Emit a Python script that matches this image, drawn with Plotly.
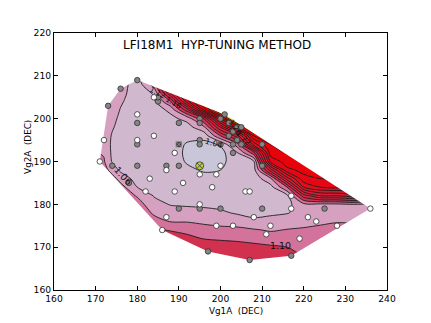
import numpy as np
import plotly.graph_objects as go

# ---------------- text ----------------
title_text = "LFI18M1\u00a0 HYP-TUNING METHOD"
x_label = "Vg1A\u00a0 (DEC)"
y_label = "Vg2A\u00a0 (DEC)"

x_ticks = [160, 170, 180, 190, 200, 210, 220, 230, 240]
y_ticks = [160, 170, 180, 190, 200, 210, 220]

# ---------------- contour levels / band colours ----------------
level_start, level_end, level_step = 1.04, 1.30, 0.02
band_colors = ['#c9c6d9', '#d0b9cf', '#d6a0c0', '#d3739b', '#d2304f',
               '#d52845', '#d9213c', '#dc1a32', '#df1428', '#e20e1e',
               '#e50814', '#e8020a', '#ea0000', '#ee2a00', '#f2c418']

# ---------------- gridded figure of merit ----------------
grid_x = [168, 172, 174, 176, 180, 184, 188, 192, 196, 200, 204, 208, 212, 216, 220, 224, 228, 232, 236, 240]
grid_y = [166, 168, 170, 172, 174, 176, 178, 180, 182, 184, 186, 188, 190, 192, 194, 196, 198, 200, 202, 204, 206, 208, 210]

# one list per grid_x column, values listed for grid_y from bottom to top
z_columns = [
    [1.12, 1.12, 1.12, 1.12, 1.12, 1.12, 1.12, 1.115, 1.11, 1.105, 1.10, 1.095, 1.09, 1.085, 1.082, 1.08, 1.08, 1.08, 1.08, 1.08, 1.08, 1.08, 1.08],
    [1.13, 1.13, 1.13, 1.13, 1.13, 1.125, 1.12, 1.115, 1.11, 1.10, 1.095, 1.088, 1.082, 1.078, 1.074, 1.072, 1.072, 1.072, 1.074, 1.076, 1.078, 1.08, 1.08],
    [1.12, 1.12, 1.12, 1.12, 1.12, 1.115, 1.11, 1.105, 1.10, 1.095, 1.088, 1.072, 1.058, 1.056, 1.056, 1.058, 1.062, 1.065, 1.068, 1.072, 1.076, 1.08, 1.085],
    [1.12, 1.12, 1.12, 1.12, 1.115, 1.11, 1.105, 1.10, 1.095, 1.088, 1.072, 1.056, 1.052, 1.05, 1.05, 1.051, 1.053, 1.056, 1.059, 1.062, 1.066, 1.07, 1.075],
    [1.12, 1.12, 1.12, 1.12, 1.115, 1.11, 1.10, 1.09, 1.078, 1.06, 1.052, 1.048, 1.046, 1.045, 1.045, 1.046, 1.047, 1.048, 1.05, 1.051, 1.05, 1.048, 1.05],
    [1.118, 1.118, 1.115, 1.11, 1.102, 1.09, 1.076, 1.066, 1.059, 1.053, 1.049, 1.046, 1.045, 1.045, 1.045, 1.045, 1.046, 1.048, 1.051, 1.056, 1.062, 1.09, 1.13],
    [1.118, 1.118, 1.116, 1.108, 1.099, 1.079, 1.068, 1.059, 1.052, 1.047, 1.044, 1.045, 1.045, 1.045, 1.045, 1.046, 1.05, 1.055, 1.064, 1.10, 1.16, 1.20, 1.22],
    [1.118, 1.118, 1.117, 1.108, 1.092, 1.079, 1.066, 1.058, 1.052, 1.048, 1.045, 1.042, 1.039, 1.038, 1.039, 1.043, 1.052, 1.066, 1.13, 1.21, 1.26, 1.28, 1.30],
    [1.118, 1.118, 1.116, 1.099, 1.088, 1.076, 1.065, 1.057, 1.05, 1.046, 1.043, 1.039, 1.026, 1.024, 1.034, 1.047, 1.075, 1.12, 1.24, 1.30, 1.32, 1.33, 1.34],
    [1.118, 1.117, 1.112, 1.097, 1.085, 1.074, 1.063, 1.055, 1.05, 1.046, 1.043, 1.040, 1.034, 1.033, 1.042, 1.10, 1.16, 1.24, 1.34, 1.38, 1.38, 1.38, 1.38],
    [1.118, 1.116, 1.108, 1.096, 1.085, 1.071, 1.058, 1.052, 1.048, 1.046, 1.045, 1.048, 1.052, 1.058, 1.09, 1.15, 1.25, 1.36, 1.38, 1.38, 1.38, 1.38, 1.38],
    [1.118, 1.116, 1.105, 1.094, 1.082, 1.064, 1.055, 1.05, 1.047, 1.046, 1.048, 1.052, 1.058, 1.11, 1.21, 1.26, 1.32, 1.36, 1.38, 1.38, 1.38, 1.38, 1.38],
    [1.118, 1.116, 1.103, 1.09, 1.078, 1.066, 1.057, 1.053, 1.05, 1.052, 1.075, 1.15, 1.225, 1.25, 1.26, 1.27, 1.29, 1.30, 1.30, 1.30, 1.30, 1.30, 1.30],
    [1.118, 1.117, 1.10, 1.09, 1.081, 1.07, 1.059, 1.054, 1.056, 1.10, 1.17, 1.235, 1.25, 1.26, 1.265, 1.27, 1.28, 1.28, 1.28, 1.28, 1.28, 1.28, 1.28],
    [1.11, 1.10, 1.092, 1.087, 1.082, 1.075, 1.066, 1.075, 1.13, 1.20, 1.235, 1.245, 1.25, 1.25, 1.26, 1.26, 1.26, 1.26, 1.26, 1.26, 1.26, 1.26, 1.26],
    [1.11, 1.10, 1.095, 1.088, 1.084, 1.077, 1.07, 1.075, 1.16, 1.22, 1.24, 1.245, 1.25, 1.25, 1.25, 1.25, 1.25, 1.25, 1.25, 1.25, 1.25, 1.25, 1.25],
    [1.11, 1.10, 1.095, 1.09, 1.086, 1.079, 1.072, 1.076, 1.16, 1.225, 1.24, 1.25, 1.25, 1.25, 1.25, 1.25, 1.25, 1.25, 1.25, 1.25, 1.25, 1.25, 1.25],
    [1.11, 1.10, 1.095, 1.09, 1.085, 1.078, 1.072, 1.08, 1.17, 1.22, 1.24, 1.25, 1.25, 1.25, 1.25, 1.25, 1.25, 1.25, 1.25, 1.25, 1.25, 1.25, 1.25],
    [1.10, 1.095, 1.09, 1.085, 1.08, 1.074, 1.07, 1.076, 1.15, 1.20, 1.24, 1.25, 1.25, 1.25, 1.25, 1.25, 1.25, 1.25, 1.25, 1.25, 1.25, 1.25, 1.25],
    [1.10, 1.095, 1.09, 1.085, 1.08, 1.074, 1.07, 1.075, 1.13, 1.18, 1.22, 1.24, 1.24, 1.24, 1.24, 1.24, 1.24, 1.24, 1.24, 1.24, 1.24, 1.24, 1.24],
]

# ---------------- measured tuning points ----------------
white_x = [171, 172, 180, 184, 180, 183, 182, 184, 189, 187, 191, 189, 195, 199, 198, 200, 206,
           207, 195, 187, 186, 199, 203, 208, 212, 211, 217, 217, 219, 221, 223, 228, 236]
white_y = [190, 195, 201, 196, 195, 186, 183, 205, 192, 188, 185, 183, 187, 187, 184, 189, 183,
           183, 180, 177, 174, 175, 175, 177, 175, 173, 182, 179, 172, 177, 176, 175, 179]

gray_x = [180, 176, 173, 174, 178, 185, 185, 180, 180, 180, 190, 195, 195, 187, 190, 195, 195,
          200, 210, 210, 190, 195, 200, 210, 225, 197, 207, 217,
          201, 200, 202, 204, 205, 203, 202, 204, 203, 205, 203]
gray_y = [209, 207, 203, 189, 185, 204, 205, 199, 194, 189, 199, 200, 199, 189, 189, 195, 194,
          194, 194, 189, 179, 179, 179, 179, 179, 169, 167, 168,
          201, 200, 199, 198, 198, 197, 196, 195, 194, 194, 192]

start_point_x, start_point_y = [190], [194]
best_point_x, best_point_y = [195], [189]

# contour labels (text + where they sit)
label_text = ["1.06", "1.10", "1.04", "1.12", "1.16", "1.26", "1.22"]
label_x = [176.6, 214.3, 198.4, 184.8, 188.6, 203.6, 205.6]
label_y = [186.8, 170.5, 194.3, 206.0, 203.7, 198.0, 195.4]
label_angle = [48, 0, 15, 28, 30, 55, 45]
label_size = [9.5, 9.5, 8, 7.5, 7.5, 7.5, 7.5]

# ---------------- build ----------------
z = np.array(z_columns).T  # rows follow grid_y

n_b = len(band_colors)
colorscale = [[k / (n_b - 1), c] for k, c in enumerate(band_colors)]

# convex hull of the measured points = region where the map is defined
def convex_hull(xs, ys):
    pts = sorted(set(zip(xs, ys)))

    def cross(o, a, b):
        return (a[0] - o[0]) * (b[1] - o[1]) - (a[1] - o[1]) * (b[0] - o[0])

    lower = []
    for p in pts:
        while len(lower) >= 2 and cross(lower[-2], lower[-1], p) <= 0:
            lower.pop()
        lower.append(p)
    upper = []
    for p in reversed(pts):
        while len(upper) >= 2 and cross(upper[-2], upper[-1], p) <= 0:
            upper.pop()
        upper.append(p)
    return lower[:-1] + upper[:-1]

all_x = white_x + gray_x + start_point_x + best_point_x
all_y = white_y + gray_y + start_point_y + best_point_y
hull = convex_hull(all_x, all_y)[::-1]  # clockwise -> hole in the mask

x0, x1 = x_ticks[0], x_ticks[-1]
y0, y1 = y_ticks[0], y_ticks[-1]
mask_x = [x0, x1, x1, x0, x0] + [p[0] for p in hull] + [hull[0][0], x0]
mask_y = [y0, y0, y1, y1, y0] + [p[1] for p in hull] + [hull[0][1], y0]

fig = go.Figure()

fig.add_trace(go.Contour(
    x=grid_x, y=grid_y, z=z,
    autocontour=False,
    contours=dict(start=level_start, end=level_end, size=level_step,
                  coloring='fill', showlines=True),
    line=dict(color='#1e1e1e', width=0.9, smoothing=0.9),
    colorscale=colorscale, showscale=False, hoverinfo='skip'))

fig.add_trace(go.Scatter(
    x=mask_x, y=mask_y, mode='lines', fill='toself',
    fillcolor='white', line=dict(width=0, color='white'), hoverinfo='skip'))

fig.add_trace(go.Scatter(
    x=gray_x, y=gray_y, mode='markers',
    marker=dict(size=5.5, color='#858585', line=dict(color='#303030', width=0.8))))
fig.add_trace(go.Scatter(
    x=white_x, y=white_y, mode='markers',
    marker=dict(size=5.5, color='white', line=dict(color='#303030', width=0.8))))
fig.add_trace(go.Scatter(
    x=start_point_x, y=start_point_y, mode='markers',
    marker=dict(size=6, symbol='square-x', color='#3a3a3a', line=dict(color='#aaaaaa', width=0.8))))
fig.add_trace(go.Scatter(
    x=best_point_x, y=best_point_y, mode='markers',
    marker=dict(size=8, symbol='circle-x', color='#bfd12a', line=dict(color='#505050', width=1))))

annotations = [
    dict(text=title_text, xref='paper', yref='paper', x=0.49, y=0.953,
         xanchor='center', yanchor='middle', showarrow=False,
         font=dict(size=12, color='black', family='DejaVu Sans')),
    dict(text=x_label, xref='paper', yref='paper', x=0.547, y=-0.081,
         xanchor='center', yanchor='middle', showarrow=False,
         font=dict(size=8.8, color='black', family='DejaVu Sans')),
    dict(text=y_label, xref='paper', yref='paper', x=-0.078, y=0.557,
         xanchor='center', yanchor='middle', showarrow=False, textangle=-90,
         font=dict(size=8.8, color='black', family='DejaVu Sans')),
]
for t, lx, ly, a, s in zip(label_text, label_x, label_y, label_angle, label_size):
    annotations.append(dict(text=t, x=lx, y=ly, xref='x', yref='y', showarrow=False,
                            textangle=a, font=dict(size=s, color='#111111', family='DejaVu Sans')))

axis_common = dict(showgrid=False, zeroline=False, showline=True, linecolor='black',
                   linewidth=1, mirror='ticks', ticks='inside', ticklen=4,
                   tickcolor='black', tickwidth=1, automargin=False,
                   tickfont=dict(size=9.2, color='black', family='DejaVu Sans'))

# the page adds an 8px body margin, so the margins below are offset by it
fig.update_layout(
    width=431, height=323,
    margin=dict(l=46, r=52, t=25, b=41, pad=0),
    paper_bgcolor='white', plot_bgcolor='white',
    showlegend=False,
    font=dict(family='DejaVu Sans', color='black'),
    annotations=annotations,
    xaxis=dict(range=[x0, x1], tickvals=x_ticks, ticktext=[str(v) for v in x_ticks],
               **axis_common),
    yaxis=dict(range=[y0, y1], tickvals=y_ticks, ticktext=[str(v) for v in y_ticks],
               **axis_common),
)

fig.write_html("out.html")
